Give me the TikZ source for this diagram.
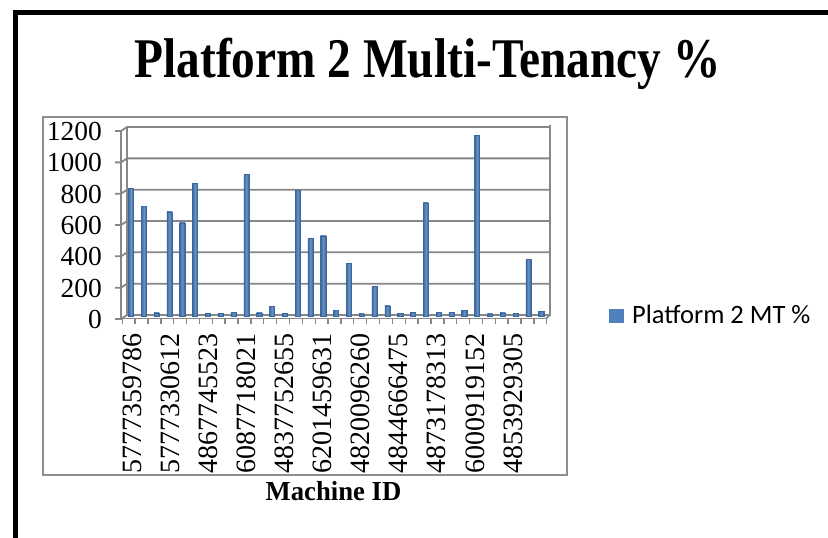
\documentclass[tikz,border=0pt]{standalone}
\usepackage{fontspec}
\setmainfont{Liberation Serif}
\newfontfamily\legfont{Carlito}
\definecolor{barblue}{HTML}{4F81BD}
\definecolor{baredge}{HTML}{3A679C}
\definecolor{gridgray}{HTML}{878787}
\definecolor{boxgray}{HTML}{8E8E8E}
\begin{document}
\begin{tikzpicture}[x=1pt,y=-1pt,
  gridln/.style={draw=gridgray,line width=1.8pt},
  barstyle/.style={left color=baredge,right color=baredge!90!black,middle color=barblue!85!white,draw=baredge,line width=0.5pt},
  ylab/.style={anchor=east,inner sep=0pt,font=\fontsize{27.5}{27.5}\selectfont},
  xlab/.style={anchor=east,rotate=90,inner sep=0pt,font=\fontsize{28}{28}\selectfont}]
\useasboundingbox (0,0) rectangle (828,538);
\fill[white] (0,0) rectangle (828,538);
% outer frame
\draw[line width=5pt,line join=miter] (828,12) -- (15,12) -- (15,538);
% chart box
\draw[draw=boxgray,line width=1.8pt] (43,117) rectangle (567,475);
% title
\node[anchor=base,inner sep=0pt] (title) at (427.5,77)
  {\scalebox{0.845}[1]{\fontsize{56}{56}\selectfont\bfseries Platform 2 Multi-Tenancy \%}};
% gridlines and walls
\foreach \v/\lab in {0/0,1/200,2/400,3/600,4/800,5/1000,6/1200}{
  \pgfmathsetmacro{\yy}{315-\v*31.33}
  \draw[gridln] (115,\yy+4) -- (121,\yy+4) -- (127,\yy) -- (550,\yy);
  \node[ylab] (y\v) at (102,\yy+4.5) {\lab};
}
\draw[gridln] (121,131) -- (121,319);
\draw[gridln] (127,127) -- (127,315);
\draw[gridln] (550,125) -- (550,315) -- (546,318.5);
\draw[gridln] (121,318.5) -- (546,318.5);
\foreach \k in {0,...,33}{
  \pgfmathsetmacro{\xx}{122.3+\k*12.86}
  \draw[gridln,line width=1.4pt] (\xx,318) -- (\xx,324);
}
% bars
\foreach \v [count=\i from 0] in {805,691,10,655,585,836,6,6,14,893,10,53,6,793,485,502,25,327,4,181,55,8,12,713,12,12,27,1142,4,10,8,351,18}{
  \pgfmathsetmacro{\xc}{131+\i*12.82}
  \pgfmathsetmacro{\yt}{314.5-\v*0.15667}
  \draw[barstyle] (\xc-2.6,316.5) rectangle (\xc+2.6,\yt);
}
% x labels
\foreach \lab [count=\j from 0] in {5777359786,5777330612,4867745523,6087718021,4837752655,6201459631,4820096260,4844666475,4873178313,6000919152,4853929305}{
  \pgfmathsetmacro{\xl}{132+\j*38.1}
  \node[xlab] (x\j) at (\xl,333) {\lab};
}
% axis title
\node[anchor=base,inner sep=0pt] (axt) at (333.5,500)
  {\scalebox{0.97}[1]{\fontsize{27.5}{27.5}\selectfont\bfseries Machine ID}};
% legend
\fill[barblue] (609,309) rectangle (624,323);
\node[anchor=base west,inner sep=0pt] (leg) at (632,323)
  {\legfont\fontsize{26.5}{26.5}\selectfont Platform 2 MT \%};
\end{tikzpicture}
\end{document}
